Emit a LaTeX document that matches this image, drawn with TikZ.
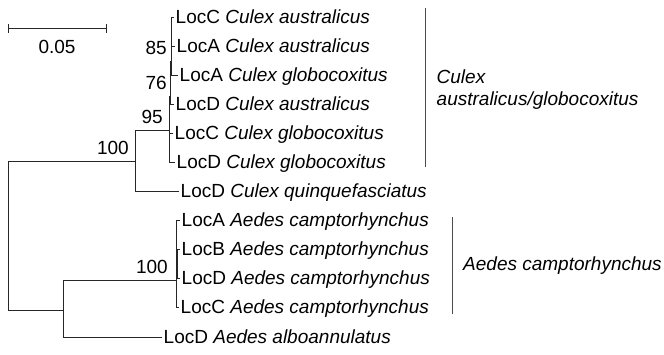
\documentclass[tikz,border=0pt]{standalone}
\usepackage{fontspec}
\setmainfont{Liberation Sans}
\begin{document}
\begin{tikzpicture}[x=1pt,y=-1pt,
    every node/.style={font=\fontsize{19}{22}\selectfont},
    leaf/.style={anchor=west,inner sep=2pt,text height=16pt,text depth=2.4pt},
    boot/.style={anchor=base east,inner sep=0pt},
    branch/.style={black!85,line width=1pt},
    cladebar/.style={black!70,line width=1pt},
    clade/.style={font=\fontsize{19}{22}\selectfont\itshape}]
    \useasboundingbox (0,0) rectangle (664,354);
    \coordinate (root) at (8,235);
    \coordinate (cx) at (135,161);
    \coordinate (c95) at (169.5,130);
    \coordinate (c76) at (170.5,96);
    \coordinate (c85) at (171.5,61);
    \coordinate (ae) at (63,310);
    \coordinate (ae100) at (176,280);
    \coordinate (aein) at (177,264);
    \node[leaf] (cau1) at (173.5,17) {LocC \textit{Culex australicus}};
    \node[leaf] (cau2) at (174.5,46) {LocA \textit{Culex australicus}};
    \node[leaf] (cgl1) at (177.5,75) {LocA \textit{Culex globocoxitus}};
    \node[leaf] (cau3) at (173.5,104) {LocD \textit{Culex australicus}};
    \node[leaf] (cgl2) at (172.5,133) {LocC \textit{Culex globocoxitus}};
    \node[leaf] (cgl3) at (174.5,162) {LocD \textit{Culex globocoxitus}};
    \node[leaf] (cqf) at (178.5,191) {LocD \textit{Culex quinquefasciatus}};
    \node[leaf] (aca1) at (179.5,220) {LocA \textit{Aedes camptorhynchus}};
    \node[leaf] (aca2) at (179.5,249) {LocB \textit{Aedes camptorhynchus}};
    \node[leaf] (aca3) at (179.5,278) {LocD \textit{Aedes camptorhynchus}};
    \node[leaf] (aca4) at (178.5,307) {LocC \textit{Aedes camptorhynchus}};
    \node[leaf] (aal) at (161.5,337) {LocD \textit{Aedes alboannulatus}};
    \draw[branch] (c85) |- (cau1.west) (c85) |- (cau2.west) (c85) |- (cgl1.west);
    \draw[branch] (c76) |- (c85) (c76) |- (cau3.west);
    \draw[branch] (c95) |- (c76) (c95) |- (cgl2.west) (c95) |- (cgl3.west);
    \draw[branch] (cx) |- (c95) (cx) |- (cqf.west);
    \draw[branch] (root) |- (cx) (root) |- (ae);
    \draw[branch] (ae) |- (ae100) (ae) |- (aal.west);
    \draw[branch] (ae100) |- (aca1.west) (ae100) |- (aein) (ae100) |- (aca4.west);
    \draw[branch] (aein) |- (aca2.west) (aein) |- (aca3.west);
    \node[boot] (bs85) at (167,54.5) {85};
    \node[boot] (bs76) at (167,89.5) {76};
    \node[boot] (bs95) at (163,123.5) {95};
    \node[boot] (bs100c) at (129,154.5) {100};
    \node[boot] (bs100a) at (168,273.5) {100};
    \coordinate (sbl) at (8,28);
    \coordinate (sbr) at (106,28);
    \draw[branch] (sbl) -- (sbr);
    \draw[branch] ([yshift=-4.5pt]sbl) -- ([yshift=4.5pt]sbl);
    \draw[branch] ([yshift=-4.5pt]sbr) -- ([yshift=4.5pt]sbr);
    \node (sblabel) at (57,47) {0.05};
    \coordinate (cbtop) at (425,8);
    \coordinate (cbbot) at (425,167);
    \draw[cladebar] (cbtop) -- (cbbot);
    \node[clade,anchor=west,align=left,inner sep=0pt] (culexclade) at (436.5,90)
        {Culex\\australicus/globocoxitus};
    \coordinate (abtop) at (452,217);
    \coordinate (abbot) at (452,314);
    \draw[cladebar] (abtop) -- (abbot);
    \node[leaf,clade] (aedesclade) at (461,264) {Aedes camptorhynchus};
\end{tikzpicture}
\end{document}
